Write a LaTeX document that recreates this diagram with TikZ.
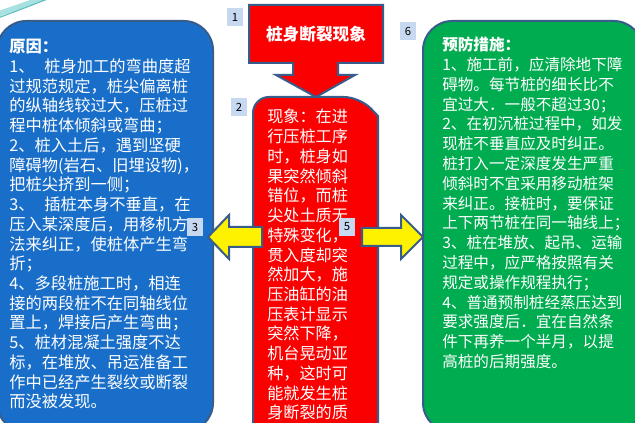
\documentclass[tikz,border=0pt]{standalone}
\usepackage{fontspec}
\setmainfont{Noto Sans CJK SC}
\definecolor{causeblue}{RGB}{24,110,200}
\definecolor{phenred}{RGB}{250,0,0}
\definecolor{prevgreen}{RGB}{0,172,80}
\definecolor{edgeblue}{RGB}{56,93,138}
\definecolor{tagblue}{RGB}{198,217,241}
\definecolor{swoosh}{RGB}{110,205,205}

\tikzset{
  panel/.style={draw=edgeblue, line width=1.5pt},
  tag/.style={fill=tagblue, inner sep=0pt, minimum width=12.5pt, minimum height=14pt,
    font=\fontsize{8.5}{10}\selectfont},
  body/.style={text=white, align=left, inner sep=0pt, anchor=north west}
}

\begin{document}
\begin{tikzpicture}[x=0.75pt,y=-0.75pt]
\useasboundingbox (0,0) rectangle (635,423);
\clip (0,0) rectangle (635,423);
\fill[white] (0,0) rectangle (635,423);

% corner swoosh
\draw[swoosh!60, line width=4pt] (-2,14) .. controls (12,9) and (28,4) .. (46,-3);
\draw[swoosh!80!teal, line width=0.8pt] (-2,18) .. controls (14,12) and (30,6) .. (50,-2);

% three panels
\draw[panel, fill=causeblue, rounded corners=22pt] (-3,21) rectangle (213,432);
\draw[panel, fill=prevgreen, rounded corners=22pt] (423,21) rectangle (643,432);
\draw[panel, fill=phenred] (253,440) [rounded corners=12pt] -- (253,97) -- (360,97)
  [sharp corners] -- (378,116) -- (378,440) -- cycle;

% title callout
\draw[panel, fill=phenred] (249,5) -- (383,5) -- (383,63) -- (338,63) -- (338,75)
  -- (355,75) -- (316,97) -- (276,75) -- (293,75) -- (293,63) -- (249,63) -- cycle;
\node[text=white, font=\bfseries\fontsize{12.5}{14}\selectfont] (title) at (316,34) {桩身断裂现象};

% side arrows
\draw[panel, fill=yellow] (262,227) -- (229,227) -- (229,215) -- (208,237)
  -- (229,259) -- (229,247) -- (262,247) -- cycle;
\draw[panel, fill=yellow] (362,228) -- (401,228) -- (401,215) -- (423,237)
  -- (401,259) -- (401,246) -- (362,246) -- cycle;

% texts
\node[body, font=\fontsize{12.2}{14.8}\selectfont] (cause) at (9,39) {%
\textbf{原因：}\\
1、\hspace{0.6em}桩身加工的弯曲度超\\
过规范规定，桩尖偏离桩\\
的纵轴线较过大，压桩过\\
程中桩体倾斜或弯曲；\\
2、桩入土后，遇到坚硬\\
障碍物(岩石、旧埋设物)，\\
把桩尖挤到一侧；\\
3、\hspace{0.6em}插桩本身不垂直，在\\
压入某深度后，用移机方\\
法来纠正，使桩体产生弯\\
折；\\
4、多段桩施工时，相连\\
接的两段桩不在同轴线位\\
置上，焊接后产生弯曲；\\
5、桩材混凝土强度不达\\
标，在堆放、吊运准备工\\
作中已经产生裂纹或断裂\\
而没被发现。};

\node[body, font=\fontsize{12.1}{14.8}\selectfont] (phen) at (267,109) {%
现象：在进\\
行压桩工序\\
时，桩身如\\
果突然倾斜\\
错位，而桩\\
尖处土质无\\
特殊变化，\\
贯入度却突\\
然加大，施\\
压油缸的油\\
压表计显示\\
突然下降，\\
机台晃动亚\\
种，这时可\\
能就发生桩\\
身断裂的质};

\node[body, font=\fontsize{11.7}{14.85}\selectfont] (prev) at (442,37) {%
\textbf{预防措施：}\\
1、施工前，应清除地下障\\
碍物。每节桩的细长比不\\
宜过大．一般不超过30；\\
2、在初沉桩过程中，如发\\
现桩不垂直应及时纠正。\\
桩打入一定深度发生严重\\
倾斜时不宜采用移动桩架\\
来纠正。接桩时，要保证\\
上下两节桩在同一轴线上；\\
3、桩在堆放、起吊、运输\\
过程中，应严格按照有关\\
规定或操作规程执行；\\
4、普通预制桩经蒸压达到\\
要求强度后．宜在自然条\\
件下再养一个半月，以提\\
高桩的后期强度。};

% number tags
\node[tag] (tag1) at (235,17) {1};
\node[tag] (tag2) at (239,107) {2};
\node[tag] (tag3) at (195,227) {3};
\node[tag] (tag5) at (347,227) {5};
\node[tag] (tag6) at (408,31) {6};
\end{tikzpicture}
\end{document}
